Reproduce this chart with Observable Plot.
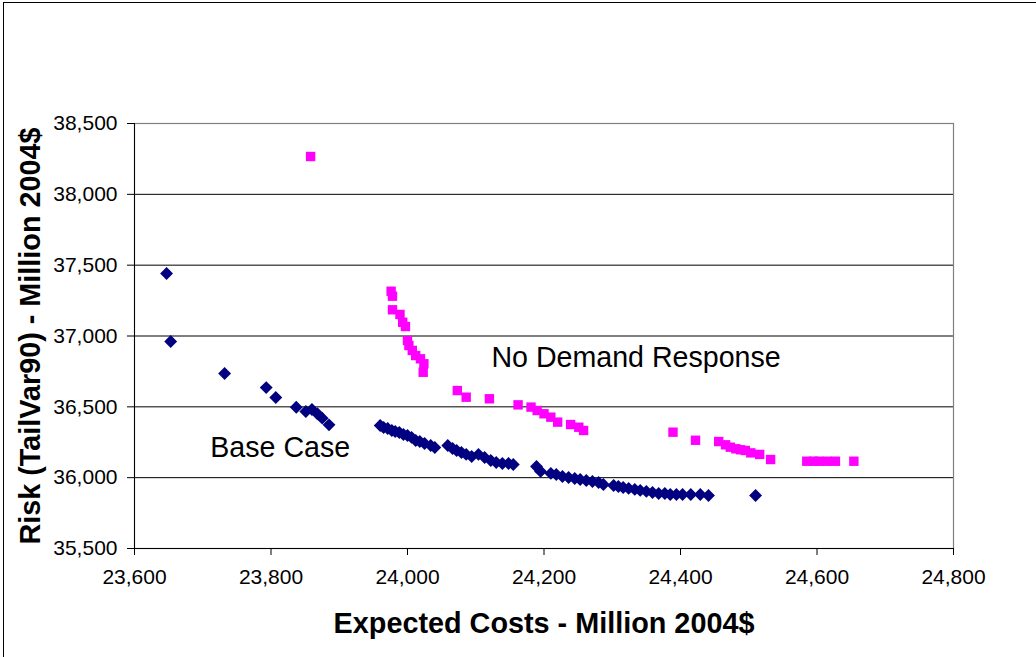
<!DOCTYPE html>
<html>
<head>
<meta charset="utf-8">
<script src="https://cdn.jsdelivr.net/npm/d3@7"></script>
<script src="https://cdn.jsdelivr.net/npm/@observablehq/plot@0.6"></script>
<style>
  html, body { margin: 0; padding: 0; background: #fff; }
  #wrap { position: relative; width: 1036px; height: 657px; overflow: hidden; }
  #border { position: absolute; left: 3px; top: 2px; width: 1100px; height: 700px; border-left: 1px solid #000; border-top: 1px solid #000; pointer-events: none; }
</style>
</head>
<body>
<div id="wrap"><div id="border"></div></div>
<script>
// Base Case (navy diamonds)
const baseX = [23647, 23653, 23732, 23793, 23807, 23837, 23851, 23860, 23868, 23875, 23885,
  23960, 23965, 23971, 23977, 23982, 23988, 23994, 24000, 24006, 24012, 24018, 24025, 24034, 24040,
  24059, 24066, 24072, 24079, 24086, 24094, 24104, 24113, 24122, 24130, 24139, 24148, 24155,
  24189, 24195, 24210, 24218, 24227, 24236, 24245, 24253, 24262, 24271, 24280, 24287,
  24302, 24309, 24316, 24324, 24333, 24341, 24350, 24359, 24368, 24377, 24385, 24394, 24403, 24415, 24429, 24441,
  24510];
const baseY = [37441, 36961, 36735, 36636, 36566, 36497, 36467, 36481, 36451, 36420, 36373,
  36368, 36354, 36347, 36333, 36326, 36319, 36305, 36298, 36284, 36262, 36255, 36241, 36227, 36213,
  36227, 36206, 36192, 36178, 36164, 36149, 36164, 36142, 36121, 36107, 36100, 36100, 36093,
  36079, 36044, 36030, 36022, 36008, 36001, 35994, 35987, 35980, 35973, 35966, 35952,
  35945, 35938, 35931, 35924, 35917, 35910, 35903, 35895, 35888, 35888, 35881, 35881, 35881, 35881, 35881, 35874,
  35874];

// No Demand Response (magenta squares)
const ndrX = [23858, 23976, 23978, 23978, 23989, 23993, 23997, 24000, 24002, 24007, 24012, 24019, 24024, 24023,
  24073, 24086, 24120, 24162, 24181, 24190, 24200, 24210, 24220, 24239, 24251, 24258,
  24389, 24422, 24456, 24466, 24473, 24481, 24488, 24495, 24503, 24516, 24532,
  24585, 24595, 24603, 24615, 24627, 24654];
const ndrY = [38267, 37316, 37281, 37185, 37152, 37097, 37067, 36968, 36933, 36898, 36862, 36839, 36804, 36744,
  36615, 36568, 36557, 36514, 36498, 36474, 36451, 36427, 36392, 36375, 36356, 36333,
  36321, 36264, 36255, 36232, 36215, 36204, 36197, 36192, 36175, 36164, 36128,
  36116, 36116, 36116, 36116, 36116, 36116];

const xTicks = [23600, 23800, 24000, 24200, 24400, 24600, 24800];
const yTicks = [35500, 36000, 36500, 37000, 37500, 38000, 38500];

const seriesLabels = ["Base Case", "No Demand Response"];
const labelX = [23711, 24123];
const labelY = [36213, 36848];

const xTitle = "Expected Costs - Million 2004$";
const yTitle = "Risk (TailVar90) - Million 2004$";

const base = baseX.map((x, i) => ({x, y: baseY[i]}));
const ndr = ndrX.map((x, i) => ({x, y: ndrY[i]}));
const labels = seriesLabels.map((t, i) => ({t, x: labelX[i], y: labelY[i]}));

const diamond = {
  draw(ctx, size) {
    const r = Math.sqrt(size) * 0.62625;
    ctx.moveTo(0, -r); ctx.lineTo(r, 0); ctx.lineTo(0, r); ctx.lineTo(-r, 0); ctx.closePath();
  }
};
const fmt = d3.format(",");

const chart = Plot.plot({
  width: 1036,
  height: 657,
  marginLeft: 134,
  marginRight: 83,
  marginTop: 123,
  marginBottom: 109,
  style: { fontFamily: "'Liberation Sans', Arial, sans-serif", fontSize: "21px", color: "#000", background: "transparent", overflow: "visible" },
  x: { domain: [23600, 24800] },
  y: { domain: [35500, 38500] },
  marks: [
    Plot.ruleY(yTicks.slice(1, -1), { stroke: "#000", strokeWidth: 1 }),
    Plot.frame({ stroke: "#808080", strokeWidth: 1.2 }),
    Plot.ruleY([yTicks[0]], { stroke: "#000", strokeWidth: 1 }),
    Plot.ruleX([xTicks[0]], { stroke: "#000", strokeWidth: 1 }),
    Plot.axisX({ ticks: xTicks, tickFormat: fmt, tickSize: 7, tickPadding: 14, fontSize: 21, label: null, stroke: "#000" }),
    Plot.axisY({ ticks: yTicks, tickFormat: fmt, tickSize: 7, tickPadding: 10, fontSize: 21, label: null, stroke: "#000" }),
    Plot.dot(base, { x: "x", y: "y", symbol: diamond, r: 5.8, fill: "#000080" }),
    Plot.dot(ndr, { x: "x", y: "y", symbol: "square", r: 5.3, fill: "#FF00FF" }),
    Plot.text(labels, { x: "x", y: "y", text: "t", textAnchor: "start", lineAnchor: "middle", fontSize: 28.6, fill: "#000" }),
    Plot.text([xTitle], { frameAnchor: "bottom", dy: 75, textAnchor: "middle", lineAnchor: "middle", fontSize: 28.8, fontWeight: "bold", fill: "#000" }),
    Plot.text([yTitle], { frameAnchor: "left", dx: -104, rotate: -90, textAnchor: "middle", lineAnchor: "middle", fontSize: 28.8, fontWeight: "bold", fill: "#000" })
  ]
});
document.getElementById("wrap").appendChild(chart);
</script>
</body>
</html>
